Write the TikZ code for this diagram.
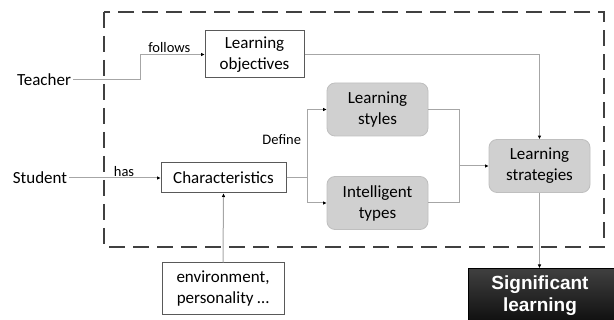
\documentclass[tikz,border=0pt]{standalone}
\usepackage{fontspec}
\setmainfont{Carlito}
\newfontfamily\arialbf[Scale=1.0]{Liberation Sans}
\usepackage{tikz}
\usetikzlibrary{calc,arrows.meta}

\definecolor{boxline}{HTML}{595959}
\definecolor{connline}{HTML}{A6A6A6}
\definecolor{greyfill}{HTML}{D0D0D0}
\definecolor{greyline}{HTML}{BFBFBF}
\definecolor{frameline}{HTML}{404040}

\tikzset{
	plainbox/.style={draw=boxline, line width=1pt, fill=white, inner sep=0pt, align=center, font=\fontsize{17}{21}\selectfont},
	greybox/.style={draw=greyline, line width=0.8pt, fill=greyfill, rounded corners=8pt, inner sep=0pt, align=center, minimum width=101pt, minimum height=53pt, font=\fontsize{17}{21}\selectfont},
	actor/.style={inner sep=2pt, font=\fontsize{17}{21}\selectfont},
	conn/.style={draw=connline, line width=1pt, -{Triangle[length=3.5pt, width=3pt, color=black]}},
	linkline/.style={draw=connline, line width=1pt},
	tag/.style={inner sep=1pt, font=\fontsize{14.5}{17}\selectfont}
}

\begin{document}
\begin{tikzpicture}[x=1pt, y=-1pt]
		%%%%% START %%%%%
		\useasboundingbox (0, 0) rectangle (614, 320);
		
		\draw[frameline, line width=2.5pt, dash pattern=on 16pt off 8pt] (104, 12) rectangle (604, 247);
		
		\node[actor] (teacher) at (44, 80) {Teacher};
		\node[actor] (student) at (40, 178) {Student};
		
		\node[plainbox, minimum width=99pt, minimum height=47pt] (objectives) at (254.5, 54.5) {Learning\\objectives};
		\node[plainbox, minimum width=125pt, minimum height=30pt] (chars) at (223.5, 178) {Characteristics};
		\node[plainbox, minimum width=122pt, minimum height=52pt] (env) at (223, 289) {environment,\\personality \dots};
		
		\node[greybox] (styles) at (377.5, 109.5) {Learning\\styles};
		\node[greybox] (types) at (377.5, 203) {Intelligent\\types};
		\node[greybox] (strategies) at (539.5, 166) {Learning\\strategies};
		
		\node[draw=black, line width=1pt, top color=black!75, bottom color=black, minimum width=150pt, minimum height=70pt, anchor=north west, inner sep=0pt] (signif) at (468, 268) {};
		\node[text=white, align=center, font=\arialbf\bfseries\fontsize{19}{22}\selectfont] (signiftext) at (540, 296) {Significant\\learning};
		
		\draw[conn] (teacher.east) -| ([xshift=-64pt]objectives.west) -- node[tag, above, pos=0.45] (follows) {follows} (objectives.west);
		\draw[conn] (objectives.east) -| (strategies.north);
		
		\draw[conn] (student.east) -- node[tag, above, pos=0.6] (has) {has} (chars.west);
		\draw[conn] (chars.east) -- ++(21, 0) |- node[tag, left, pos=0.28, xshift=-5pt] (define) {Define} (styles.west);
		\draw[conn] (chars.east) -- ++(21, 0) |- (types.west);
		
		\coordinate (join) at (459, 166);
		\draw[linkline] (styles.east) -| (join);
		\draw[linkline] (types.east) -| (join);
		\draw[conn] (join) -- (strategies.west);
		
		\draw[conn] (strategies.south) -- (strategies.south |- signif.north);
		\draw[conn] (env.north) -- (chars.south);
		
		%%%%% END %%%%%
	\end{tikzpicture}
\end{document}
